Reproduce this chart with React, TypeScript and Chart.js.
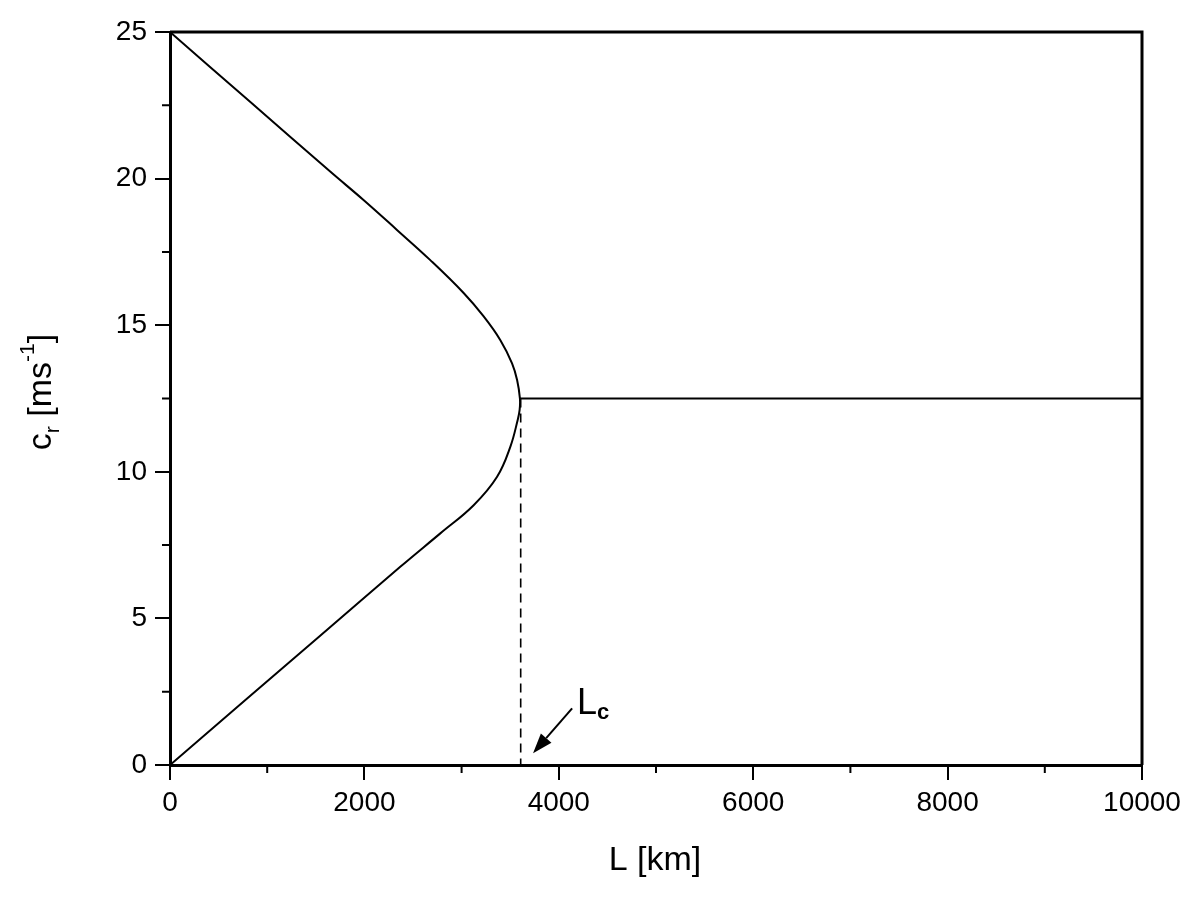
import React, { useEffect, useRef } from 'react'
import { Chart, registerables } from 'chart.js'

Chart.register(...registerables)

const FONT = '"Liberation Sans", Arial, sans-serif'

// upper branch of the dispersion curve, L [km] -> c_r [m/s]
const upperL = [0, 824, 1648, 1991, 2335, 2678, 3021, 3227, 3399, 3519, 3571, 3600]
const upperC = [25, 22.62, 20.24, 19.27, 18.25, 17.22, 16.1, 15.3, 14.49, 13.7, 13.13, 12.5]
// lower branch, back from the turning point to the origin
const lowerL = [3597, 3577, 3502, 3365, 3124, 2781, 2369, 1545, 0]
const lowerC = [12.11, 11.77, 10.86, 9.83, 8.86, 7.9, 6.76, 4.41, 0]
// beyond L_c: constant phase speed
const flatL = [3600, 10000]
const flatC = [12.5, 12.5]
// critical wavelength marker
const LcValue = 3608
const dashC = [12.5, 0]
const arrowFrom = { x: 4137, y: 1.93 }
const arrowTo = { x: 3735, y: 0.4 }

const xMinor = [1000, 3000, 5000, 7000, 9000]
const yMinor = [2.5, 7.5, 12.5, 17.5, 22.5]

const toPts = (xs: number[], ys: number[]) => xs.map((v, i) => ({ x: v, y: ys[i] }))

const decor = {
  id: 'decor',
  afterDraw(chart: any) {
    const { ctx, chartArea: a, scales } = chart
    const x = scales.x
    const y = scales.y
    ctx.save()
    ctx.strokeStyle = '#000'
    ctx.fillStyle = '#000'

    // top and right frame
    ctx.lineWidth = 3
    ctx.beginPath()
    ctx.moveTo(a.left, a.top)
    ctx.lineTo(a.right, a.top)
    ctx.lineTo(a.right, a.bottom)
    ctx.stroke()

    // minor ticks
    ctx.lineWidth = 2
    ctx.beginPath()
    xMinor.forEach((v) => {
      const px = x.getPixelForValue(v)
      ctx.moveTo(px, a.bottom)
      ctx.lineTo(px, a.bottom + 8)
    })
    yMinor.forEach((v) => {
      const py = y.getPixelForValue(v)
      ctx.moveTo(a.left, py)
      ctx.lineTo(a.left - 8, py)
    })
    ctx.stroke()

    // arrow pointing at L_c
    const x1 = x.getPixelForValue(arrowFrom.x)
    const y1 = y.getPixelForValue(arrowFrom.y)
    const x2 = x.getPixelForValue(arrowTo.x)
    const y2 = y.getPixelForValue(arrowTo.y)
    const ang = Math.atan2(y2 - y1, x2 - x1)
    const head = 20
    const hw = 7
    const bx = x2 - head * Math.cos(ang)
    const by = y2 - head * Math.sin(ang)
    ctx.lineWidth = 2
    ctx.beginPath()
    ctx.moveTo(x1, y1)
    ctx.lineTo(bx, by)
    ctx.stroke()
    ctx.beginPath()
    ctx.moveTo(x2, y2)
    ctx.lineTo(bx + hw * Math.sin(ang), by - hw * Math.cos(ang))
    ctx.lineTo(bx - hw * Math.sin(ang), by + hw * Math.cos(ang))
    ctx.closePath()
    ctx.fill()

    // L_c label
    ctx.textBaseline = 'alphabetic'
    ctx.textAlign = 'left'
    ctx.font = `36px ${FONT}`
    ctx.fillText('L', 577, 714)
    ctx.font = `bold 22px ${FONT}`
    ctx.fillText('c', 597, 719)

    // x title
    ctx.font = `34px ${FONT}`
    ctx.textAlign = 'center'
    ctx.fillText('L [km]', 655, 870)

    // y title: c_r [ms^-1], rotated
    ctx.translate(51, 392)
    ctx.rotate(-Math.PI / 2)
    ctx.textAlign = 'left'
    const big = `34px ${FONT}`
    const small = `21px ${FONT}`
    const parts: [string, string, number][] = [
      ['c', big, 0],
      ['r', small, 8],
      [' [ms', big, 0],
      ['-1', small, -17],
      [']', big, 0],
    ]
    let total = 0
    parts.forEach(([t, f]) => {
      ctx.font = f
      total += ctx.measureText(t).width
    })
    let cx = -total / 2
    parts.forEach(([t, f, dy]) => {
      ctx.font = f
      ctx.fillText(t, cx, dy)
      cx += ctx.measureText(t).width
    })
    ctx.restore()
  },
}

export default function App() {
  const canvasRef = useRef<HTMLCanvasElement>(null)

  useEffect(() => {
    if (!canvasRef.current) return
    const line = { showLine: true, borderColor: '#000', pointRadius: 0, fill: false }
    const chart = new Chart(canvasRef.current, {
      type: 'scatter',
      data: {
        datasets: [
          {
            ...line,
            data: [...toPts(upperL, upperC), ...toPts(lowerL, lowerC)],
            borderWidth: 2,
            tension: 0.4,
          },
          { ...line, data: toPts(flatL, flatC), borderWidth: 2 },
          {
            ...line,
            data: toPts([LcValue, LcValue], dashC),
            borderWidth: 1.6,
            borderDash: [9, 6],
          },
        ],
      },
      options: {
        animation: false,
        responsive: true,
        maintainAspectRatio: false,
        layout: { padding: { top: 32, right: 58, left: 0, bottom: 0 } },
        plugins: { legend: { display: false }, tooltip: { enabled: false }, title: { display: false } },
        scales: {
          x: {
            type: 'linear',
            min: 0,
            max: 10000,
            afterFit: (s: any) => { s.height = 132 },
            ticks: {
              stepSize: 2000,
              color: '#000',
              font: { family: FONT, size: 28 },
              padding: 6,
              maxRotation: 0,
              callback: (v: any) => String(v),
            },
            grid: { drawOnChartArea: false, tickLength: 15, color: '#000', lineWidth: 2 },
            border: { color: '#000', width: 3 },
          },
          y: {
            type: 'linear',
            min: 0,
            max: 25,
            afterFit: (s: any) => { s.width = 170 },
            ticks: {
              stepSize: 5,
              color: '#000',
              font: { family: FONT, size: 28 },
              padding: 8,
              callback: (v: any) => String(v),
            },
            grid: { drawOnChartArea: false, tickLength: 15, color: '#000', lineWidth: 2 },
            border: { color: '#000', width: 3 },
          },
        },
      },
      plugins: [decor],
    })
    return () => chart.destroy()
  }, [])

  return (
    <div style={{ position: 'fixed', left: 0, top: 0, width: 1200, height: 897, background: '#fff' }}>
      <canvas ref={canvasRef} />
    </div>
  )
}
